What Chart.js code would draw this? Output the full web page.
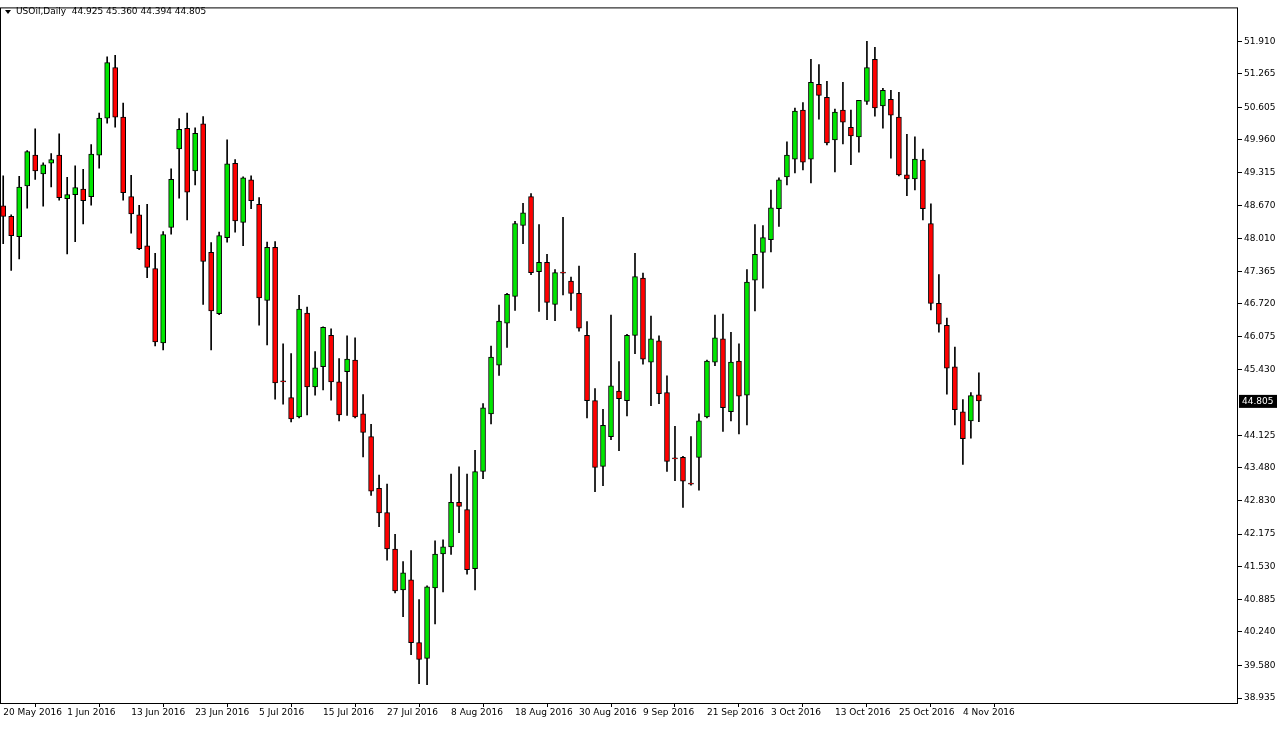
<!DOCTYPE html>
<html><head><meta charset="utf-8">
<script src="https://cdn.jsdelivr.net/npm/chart.js@4"></script>
<style>html,body{margin:0;padding:0;background:#fff;overflow:hidden}#w{position:relative;width:1277px;height:729px}</style>
</head><body><div id="w"><canvas id="c" width="1277" height="729"></canvas></div>
<script>
const opens=[48.66,48.45,48.05,49.05,49.66,49.29,49.50,49.66,48.80,48.88,48.99,48.84,49.66,50.39,51.39,50.41,48.84,48.48,47.87,47.42,45.95,48.23,49.78,50.19,49.35,50.28,47.74,46.53,48.03,49.50,48.33,49.17,48.69,46.79,47.84,45.19,44.87,44.49,46.54,45.08,45.48,46.10,45.18,45.38,45.61,44.55,44.10,43.08,42.60,41.88,41.07,41.27,40.03,39.72,41.11,41.78,41.92,42.80,42.66,41.49,43.41,44.55,45.51,46.34,46.87,48.27,48.84,47.36,47.54,46.71,47.34,47.17,46.93,46.10,44.81,43.51,44.10,45.00,44.81,46.10,47.23,45.57,45.99,44.97,43.67,43.69,43.17,43.69,44.49,45.57,46.03,44.59,45.59,44.92,47.19,47.74,47.99,48.60,49.23,49.58,50.55,49.58,51.06,50.80,49.96,50.55,50.21,50.02,50.72,51.55,50.63,50.76,50.41,49.27,49.19,49.56,48.31,46.73,46.30,45.48,44.59,44.41,44.925];
const highs=[49.25,48.48,49.24,49.75,50.18,49.51,49.69,50.08,49.22,49.45,49.38,49.87,50.49,51.60,51.63,50.69,49.26,48.67,48.69,47.72,48.15,49.39,50.38,50.49,50.20,50.42,47.93,48.14,49.96,49.57,49.23,49.25,48.82,47.94,47.95,45.93,45.74,46.89,46.66,45.78,46.27,46.23,45.64,46.09,46.05,44.93,44.34,43.34,43.16,42.17,41.63,41.85,40.88,41.15,42.04,42.06,43.36,43.50,43.36,43.83,44.75,45.89,46.70,46.93,48.35,48.71,48.90,48.29,47.70,47.40,48.43,47.25,47.47,46.37,45.05,44.64,46.50,45.58,46.12,47.72,47.33,46.48,46.09,45.30,44.30,43.71,44.10,44.55,45.61,46.50,46.52,46.16,45.93,47.40,48.29,48.27,48.97,49.21,49.92,50.59,50.70,51.55,51.45,51.12,50.57,51.10,50.55,50.74,51.91,51.79,50.98,50.94,50.90,50.07,50.02,49.78,48.70,47.30,46.44,45.87,44.83,44.97,45.360];
const lows=[47.91,47.38,47.61,48.61,49.18,48.65,49.03,48.77,47.71,47.95,48.30,48.67,49.40,50.29,50.21,48.77,48.12,47.79,47.24,45.89,45.81,48.10,48.81,48.38,49.07,46.71,45.81,46.51,47.94,48.14,47.87,48.60,46.30,45.91,44.84,44.74,44.39,44.47,44.53,44.92,45.02,44.82,44.41,44.52,44.47,43.70,42.94,42.32,41.66,41.01,40.54,39.79,39.22,39.20,40.40,41.03,41.77,42.20,41.38,41.07,43.27,44.35,45.31,45.86,46.59,47.91,47.30,46.57,46.41,46.39,46.90,46.59,46.18,44.47,43.01,43.13,44.04,43.82,44.51,45.74,45.53,44.71,44.75,43.41,43.23,42.70,43.14,43.04,44.47,45.50,44.20,44.41,44.15,44.33,46.58,47.03,47.75,48.25,49.07,49.31,49.37,49.11,50.37,49.86,49.33,49.88,49.47,49.72,50.66,50.43,50.19,49.60,49.25,48.86,48.97,48.38,46.60,46.16,44.94,44.33,43.55,44.07,44.394];
const closes=[48.45,48.07,49.03,49.73,49.35,49.47,49.57,48.82,48.88,49.02,48.76,49.68,50.39,51.49,50.41,48.92,48.50,47.81,47.44,45.97,48.09,49.18,50.17,48.93,50.09,47.56,46.58,48.07,49.49,48.36,49.21,48.76,46.84,47.84,45.16,45.18,44.45,46.62,45.08,45.46,46.26,45.18,44.53,45.63,44.49,44.18,43.02,42.59,41.88,41.05,41.41,40.03,39.70,41.13,41.78,41.92,42.80,42.72,41.47,43.41,44.67,45.67,46.38,46.91,48.31,48.52,47.34,47.54,46.75,47.34,47.33,46.93,46.24,44.81,43.49,44.32,45.10,44.85,46.10,47.26,45.63,46.03,44.95,43.61,43.66,43.22,43.16,44.41,45.59,46.05,44.67,45.57,44.90,47.15,47.70,48.03,48.62,49.17,49.66,50.53,49.52,51.10,50.84,49.90,50.51,50.31,50.04,50.74,51.39,50.59,50.94,50.45,49.27,49.19,49.58,48.60,46.73,46.32,45.45,44.63,44.06,44.91,44.805];
const priceTicks=[38.935,39.580,40.240,40.885,41.530,42.175,42.830,43.480,44.125,45.430,46.075,46.720,47.365,48.010,48.670,49.315,49.960,50.605,51.265,51.910];
const months=['Jan','Feb','Mar','Apr','May','Jun','Jul','Aug','Sep','Oct','Nov','Dec'];
const dates=[];{let d=new Date(2016,4,20);while(dates.length<opens.length){const w=d.getDay();if(w>0&&w<6)dates.push(d.getDate()+' '+months[d.getMonth()]+' 2016');d.setDate(d.getDate()+1);}}
const GREEN='#00e600',RED='#ff0000';
const bodies=opens.map((o,i)=>({x:i,y:[o,closes[i]]}));
const wicks=opens.map((o,i)=>({x:i,y:[lows[i],highs[i]]}));
const cols=opens.map((o,i)=>closes[i]>=o?GREEN:RED);
const FONT='"DejaVu Sans", sans-serif';
const overlay={id:'ov',afterDraw(ch){const c=ch.ctx,a=ch.chartArea;c.save();
c.strokeStyle='#000';c.lineWidth=1;c.strokeRect(a.left+0.5,a.top+0.5,a.right-a.left-1,a.bottom-a.top);
c.font='9px '+FONT;c.fillStyle='#000';c.textBaseline='middle';
c.beginPath();c.moveTo(5,10);c.lineTo(11,10);c.lineTo(8,14);c.closePath();c.fill();
c.fillText('USOil,Daily  44.925 45.360 44.394 44.805',16,12);
const y=ch.scales.y.getPixelForValue(closes[closes.length-1]);
c.fillStyle='#000';c.fillRect(a.right+1,y-6,38,13);c.fillStyle='#fff';c.fillText('44.805',a.right+4,y+0.5);
c.restore();}};
new Chart(document.getElementById('c'),{type:'bar',
data:{datasets:[
{data:wicks,backgroundColor:'#000',borderWidth:0,barThickness:1,grouped:false,order:2},
{data:bodies,backgroundColor:cols,borderColor:'#000',borderWidth:1,borderSkipped:false,barThickness:5,grouped:false,order:1,minBarLength:1}]},
options:{responsive:false,animation:false,events:[],
layout:{padding:{top:4,left:0,right:0,bottom:0}},
plugins:{legend:{display:false},tooltip:{enabled:false}},
scales:{
x:{type:'linear',min:-0.4,max:154.4,offset:false,
afterBuildTicks(s){s.ticks=[];for(let i=0;i<opens.length;i+=8)s.ticks.push({value:i});},
afterFit(s){s.height=26;},
border:{display:false},
grid:{drawOnChartArea:false,color:'#000',tickLength:4},
ticks:{autoSkip:false,maxRotation:0,align:'start',padding:0,color:'#000',font:{size:9,family:FONT},callback:v=>dates[v]||''}},
y:{position:'right',min:38.837,max:52.578,
afterBuildTicks(s){s.ticks=priceTicks.map(v=>({value:v}));},
afterFit(s){s.width=39;},
border:{display:false},
grid:{drawOnChartArea:false,color:'#000',tickLength:4},
ticks:{padding:2,color:'#000',font:{size:9,family:FONT},callback:v=>v.toFixed(3)}}}},
plugins:[overlay]});
</script></body></html>
